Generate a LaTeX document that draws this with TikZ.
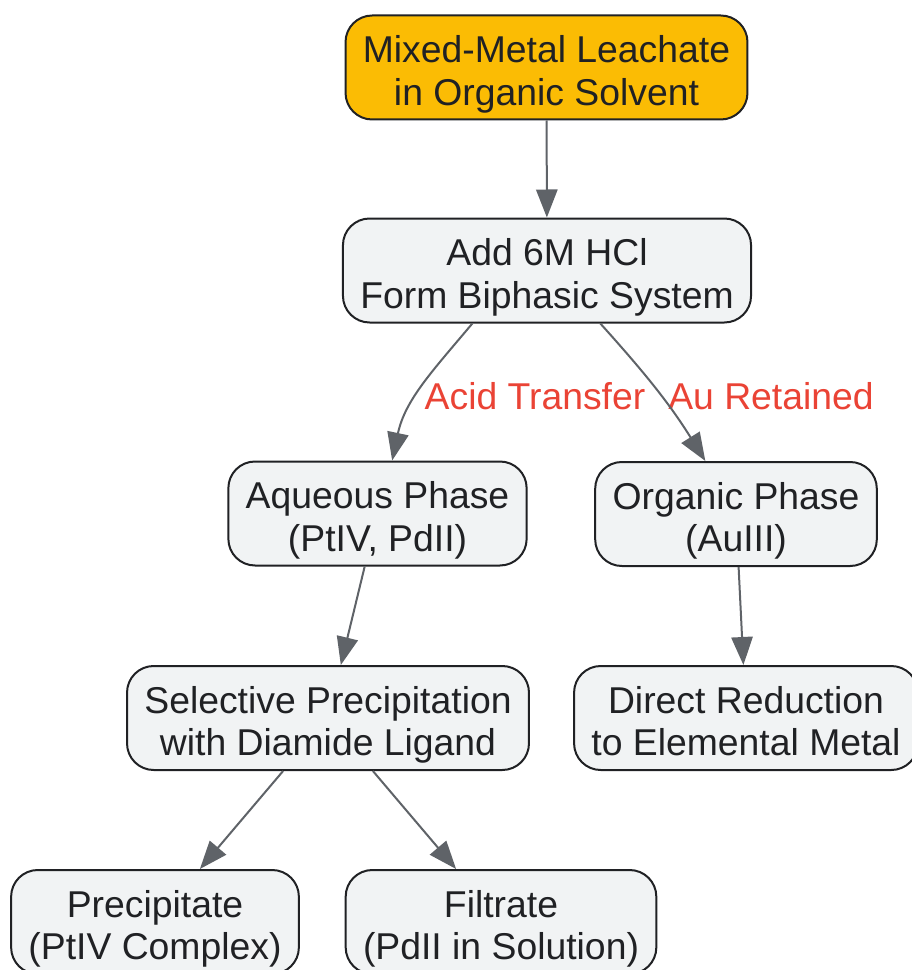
\documentclass[tikz,border=0pt]{standalone}
\usepackage{fontspec}
\setmainfont{Liberation Sans}
\usetikzlibrary{arrows.meta}

\tikzset{
  stepbox/.style={draw=boxline, line width=1.5pt, rounded corners=20pt, fill=boxfill,
    text=textdark, align=center, inner xsep=13pt, inner ysep=3pt, minimum height=78pt,
    font=\fontsize{28}{32}\selectfont, execute at begin node={\rule[-6.5pt]{0pt}{69.5pt}}},
  startbox/.style={stepbox, fill=startfill},
  flow/.style={draw=edgegray, line width=1.5pt, -{Triangle[length=21pt,width=16pt]}},
  flowlabel/.style={text=labelred, font=\fontsize{28}{32}\selectfont}
}

\begin{document}
\begin{tikzpicture}[x=0.75pt,y=0.75pt]
            \definecolor{startfill}{RGB}{251, 188, 4}
            \definecolor{boxfill}{RGB}{241, 243, 244}
            \definecolor{boxline}{RGB}{32, 33, 36}
            \definecolor{textdark}{RGB}{32, 33, 36}
            \definecolor{edgegray}{RGB}{95, 99, 104}
            \definecolor{labelred}{RGB}{234, 67, 53}

            \useasboundingbox (0,0) rectangle (911,-970);

            \node[startbox] (leach) at (546.5,-67.5) {Mixed-Metal Leachate\\in Organic Solvent};
            \node[stepbox] (hcl) at (547,-270.5) {Add 6M HCl\\Form Biphasic System};
            \node[stepbox] (aq) at (377.5,-513.5) {Aqueous Phase\\(PtIV, PdII)};
            \node[stepbox] (org) at (736,-514) {Organic Phase\\(AuIII)};
            \node[stepbox] (sel) at (328,-718) {Selective Precipitation\\with Diamide Ligand};
            \node[stepbox] (red) at (746,-718) {Direct Reduction\\to Elemental Metal};
            \node[stepbox] (ppt) at (155,-922) {Precipitate\\(PtIV Complex)};
            \node[stepbox] (filt) at (501,-922) {Filtrate\\(PdII in Solution)};

            \node[flowlabel] (acidlbl) at (535,-396) {Acid Transfer};
            \node[flowlabel] (aulbl) at (771,-396) {Au Retained};

            \draw[flow] (leach) -- (hcl);
            \draw[flow] ([xshift=-56pt]hcl.south) to[out=-130, in=78] ([xshift=11pt]aq.north);
            \draw[flow] ([xshift=40pt]hcl.south) to[out=-48, in=122] ([xshift=-23pt]org.north);
            \draw[flow] (aq) -- (sel);
            \draw[flow] (org) -- (red);
            \draw[flow] (sel) -- (ppt);
            \draw[flow] (sel) -- (filt);
        \end{tikzpicture}
\end{document}
